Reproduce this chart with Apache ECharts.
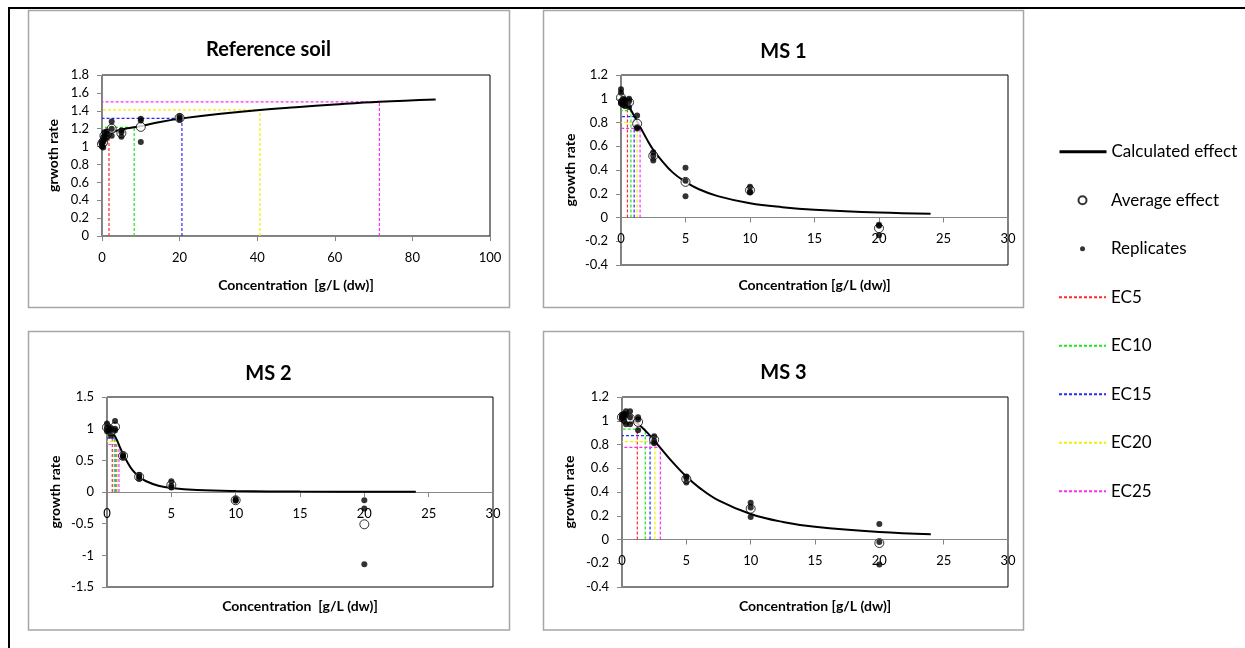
<!DOCTYPE html>
<html><head><meta charset="utf-8">
<script src="https://cdn.jsdelivr.net/npm/echarts@6/dist/echarts.min.js"></script>
<style>html,body{margin:0;padding:0;background:#fff}#c{width:1245px;height:648px}</style>
</head><body><div id="c"></div><script>
const FONT = 'Lato, "Noto Sans", sans-serif';

// ---------- Reference soil ----------
const refCurveX = [0.3, 1, 2, 4, 6, 8.3, 10, 15, 20.6, 30, 40.7, 50, 60, 71.5, 86];
const refCurveY = [1.12, 1.14, 1.155, 1.18, 1.2, 1.215, 1.23, 1.275, 1.315, 1.365, 1.41, 1.44, 1.47, 1.50, 1.525];
const refAverage = [[0,1.03],[0.31,1.05],[0.625,1.12],[1.25,1.14],[2.5,1.2],[5,1.15],[10,1.22],[20,1.32]];
const refReplicates = [[0,1.00],[0,1.03],[0,1.06],[0.31,0.99],[0.31,1.05],[0.31,1.10],
  [0.625,1.08],[0.625,1.12],[0.625,1.16],[1.25,1.10],[1.25,1.14],[1.25,1.17],
  [2.5,1.12],[2.5,1.20],[2.5,1.28],[5,1.11],[5,1.16],[5,1.18],
  [10,1.05],[10,1.29],[10,1.31],[20,1.30],[20,1.32],[20,1.34]];
const refEcX = [1.8, 8.3, 20.6, 40.7, 71.5];
const refEcY = [1.155, 1.215, 1.315, 1.41, 1.50];

// ---------- MS 1 ----------
const ms1CurveX = [0, 0.25, 0.5, 0.75, 1, 1.25, 1.5, 2, 2.5, 3, 4, 5, 6, 7.5, 10, 12.5, 15, 20, 24];
const ms1CurveY = [1.0, 0.99, 0.95, 0.91, 0.86, 0.81, 0.76, 0.66, 0.57, 0.50, 0.38, 0.30, 0.24, 0.18, 0.12, 0.087, 0.066, 0.042, 0.032];
const ms1Average = [[0,1.01],[0.16,0.97],[0.31,0.96],[0.625,0.97],[1.25,0.79],[2.5,0.52],[5,0.30],[10,0.23],[20,-0.09]];
const ms1Replicates = [[0,1.08],[0,1.05],[0,0.98],[0,0.96],[0.16,0.97],[0.16,1.0],[0.16,0.95],
  [0.31,0.99],[0.31,0.96],[0.31,0.94],[0.625,1.0],[0.625,0.98],[0.625,0.93],
  [1.25,0.86],[1.25,0.76],[1.25,0.75],[2.5,0.55],[2.5,0.52],[2.5,0.48],
  [5,0.42],[5,0.31],[5,0.18],[10,0.26],[10,0.22],[10,0.21],[20,-0.06],[20,-0.07],[20,-0.15]];
const ms1EcX = [0.5, 0.77, 1.02, 1.25, 1.48];
const ms1EcY = [0.95, 0.90, 0.85, 0.80, 0.75];

// ---------- MS 2 ----------
const ms2CurveX = [0, 0.25, 0.5, 0.75, 1, 1.25, 1.5, 2, 2.5, 3, 4, 5, 7, 10, 15, 24];
const ms2CurveY = [1.0, 0.983, 0.92, 0.83, 0.71, 0.60, 0.50, 0.34, 0.24, 0.174, 0.099, 0.062, 0.030, 0.014, 0.006, 0.002];
const ms2Average = [[0,1.02],[0.16,0.99],[0.31,0.96],[0.625,1.03],[1.25,0.57],[2.5,0.24],[5,0.11],[10,-0.13],[20,-0.51]];
const ms2Replicates = [[0,1.08],[0,1.02],[0,0.96],[0.16,1.0],[0.16,0.97],
  [0.31,0.89],[0.31,0.98],[0.31,1.01],[0.625,1.12],[0.625,1.0],[0.625,0.97],
  [1.25,0.59],[1.25,0.57],[1.25,0.55],[2.5,0.27],[2.5,0.24],[2.5,0.21],
  [5,0.17],[5,0.10],[5,0.07],[10,-0.11],[10,-0.13],[10,-0.14],[20,-0.13],[20,-0.26],[20,-1.14]];
const ms2EcX = [0.41, 0.57, 0.70, 0.81, 0.93];
const ms2EcY = [0.95, 0.90, 0.85, 0.80, 0.75];

// ---------- MS 3 ----------
const ms3CurveX = [0, 0.5, 1, 1.5, 2, 2.5, 3, 4, 5, 6, 7.5, 10, 12.5, 15, 20, 24];
const ms3CurveY = [1.03, 1.02, 0.993, 0.95, 0.896, 0.835, 0.77, 0.643, 0.53, 0.437, 0.329, 0.215, 0.148, 0.107, 0.063, 0.045];
const ms3Average = [[0,1.03],[0.16,1.03],[0.31,1.01],[0.625,1.02],[1.25,0.99],[2.5,0.84],[5,0.51],[10,0.26],[20,-0.03]];
const ms3Replicates = [[0,1.05],[0,1.02],[0,1.03],[0.16,1.03],[0.16,1.06],[0.16,1.0],
  [0.31,1.08],[0.31,1.05],[0.31,0.97],[0.625,1.08],[0.625,1.03],[0.625,0.97],
  [1.25,1.03],[1.25,1.01],[1.25,0.92],[2.5,0.87],[2.5,0.83],[2.5,0.81],
  [5,0.53],[5,0.52],[5,0.48],[10,0.31],[10,0.27],[10,0.19],[20,0.13],[20,-0.02],[20,-0.21]];
const ms3EcX = [1.19, 1.81, 2.18, 2.56, 2.98];
const ms3EcY = [0.98, 0.93, 0.875, 0.825, 0.775];

const ecNames = ['EC5', 'EC10', 'EC15', 'EC20', 'EC25'];
const ecColors = ['#ff2a2a', '#1ee61e', '#2a2aff', '#f0f000', '#ff2aff'];

const panels = [
  {title:'Reference soil', yName:'grwoth rate', xName:'Concentration  [g/L (dw)]',
   xMax:100, xInt:20, yMin:0, yMax:1.8, yInt:0.2,
   cx:refCurveX, cy:refCurveY, avg:refAverage, rep:refReplicates, ecx:refEcX, ecy:refEcY,
   grid:{left:102, top:75, width:388, height:161}, tx:268.5, ty:38, xGap:41, yGap:40},
  {title:'MS 1', yName:'growth rate', xName:'Concentration [g/L (dw)]',
   xMax:30, xInt:5, yMin:-0.4, yMax:1.2, yInt:0.2,
   cx:ms1CurveX, cy:ms1CurveY, avg:ms1Average, rep:ms1Replicates, ecx:ms1EcX, ecy:ms1EcY,
   grid:{left:621, top:75, width:387, height:190}, tx:783.5, ty:39.5, xGap:59.5, yGap:42},
  {title:'MS 2', yName:'growth rate', xName:'Concentration  [g/L (dw)]',
   xMax:30, xInt:5, yMin:-1.5, yMax:1.5, yInt:0.5,
   cx:ms2CurveX, cy:ms2CurveY, avg:ms2Average, rep:ms2Replicates, ecx:ms2EcX, ecy:ms2EcY,
   grid:{left:107, top:397, width:386, height:190}, tx:268.5, ty:362, xGap:106, yGap:43},
  {title:'MS 3', yName:'growth rate', xName:'Concentration [g/L (dw)]',
   xMax:30, xInt:5, yMin:-0.4, yMax:1.2, yInt:0.2,
   cx:ms3CurveX, cy:ms3CurveY, avg:ms3Average, rep:ms3Replicates, ecx:ms3EcX, ecy:ms3EcY,
   grid:{left:622, top:397, width:386, height:190}, tx:783.5, ty:361, xGap:58.5, yGap:44}
];

const axisGray = '#868686';
const grids = [], xAxes = [], yAxes = [], titles = [], series = [];
panels.forEach((p, i) => {
  grids.push(Object.assign({show:true, borderColor:'#000', borderWidth:1, backgroundColor:'transparent', containLabel:false}, p.grid));
  titles.push({text:p.title, left:p.tx, top:p.ty, textAlign:'center', padding:0,
    textStyle:{fontFamily:FONT, fontSize:20, fontWeight:'bold', color:'#000', lineHeight:24}});
  // x axis sits at y = 0 : shift it up from the grid bottom by the zero position
  const zeroOffset = -p.grid.height * (0 - p.yMin) / (p.yMax - p.yMin);
  xAxes.push({type:'value', gridIndex:i, min:0, max:p.xMax, interval:p.xInt, position:'bottom', offset:zeroOffset,
    axisLine:{show:true, onZero:false, lineStyle:{color:axisGray, width:1}},
    axisTick:{show:true, length:5, lineStyle:{color:axisGray}},
    axisLabel:{margin:15, color:'#000', fontSize:13, fontFamily:FONT},
    splitLine:{show:false},
    name:p.xName, nameLocation:'middle', nameGap:p.xGap,
    nameTextStyle:{fontFamily:FONT, fontSize:14, fontWeight:'bold', color:'#000', lineHeight:17}});
  yAxes.push({type:'value', gridIndex:i, min:p.yMin, max:p.yMax, interval:p.yInt,
    axisLine:{show:true, onZero:false, lineStyle:{color:axisGray, width:1}},
    axisTick:{show:true, length:5, lineStyle:{color:axisGray}},
    axisLabel:{margin:13, color:'#000', fontSize:13, fontFamily:FONT},
    splitLine:{show:false},
    name:p.yName, nameLocation:'middle', nameGap:p.yGap, nameRotate:90,
    nameTextStyle:{fontFamily:FONT, fontSize:14, fontWeight:'bold', color:'#000', lineHeight:17}});
  ecNames.forEach((n, k) => {
    series.push({name:n, type:'line', xAxisIndex:i, yAxisIndex:i, symbol:'none', silent:true, z:2,
      lineStyle:{color:ecColors[k], width:1.2, type:[3,2]}, itemStyle:{color:ecColors[k]},
      data:[[p.ecx[k], 0], [p.ecx[k], p.ecy[k]], [0, p.ecy[k]]]});
  });
  series.push({name:'Calculated effect', type:'line', xAxisIndex:i, yAxisIndex:i, symbol:'none', smooth:0.4, silent:true, z:3,
    lineStyle:{color:'#000', width:2}, itemStyle:{color:'#000'},
    data:p.cx.map((x, j) => [x, p.cy[j]])});
  series.push({name:'Average effect', type:'scatter', xAxisIndex:i, yAxisIndex:i, symbol:'circle', symbolSize:9, silent:true, z:4,
    itemStyle:{color:'#fff', borderColor:'#000', borderWidth:1}, data:p.avg});
  series.push({name:'Replicates', type:'scatter', xAxisIndex:i, yAxisIndex:i, symbol:'circle', symbolSize:6, silent:true, z:5,
    itemStyle:{color:'#000'}, data:p.rep});
});

const legText = {fontFamily:FONT, fontSize:17, color:'#000', lineHeight:20};
const noSym = {color:'transparent', borderColor:'transparent', borderWidth:0};
const legends = [
  {data:['Calculated effect'], left:1058, top:141.7, itemWidth:47, itemHeight:14, padding:0, selectedMode:false, textStyle:legText, itemStyle:noSym, lineStyle:{width:3}},
  {data:['Average effect'], left:1077.5, top:190.2, itemWidth:47, itemHeight:8, padding:0, selectedMode:false, textStyle:legText},
  {data:['Replicates'], left:1080, top:238.7, itemWidth:47, itemHeight:5, padding:0, selectedMode:false, textStyle:legText},
  {data:ecNames, orient:'vertical', left:1058, top:287.2, itemWidth:47, itemHeight:14, itemGap:28.5, padding:0, selectedMode:false, textStyle:legText, itemStyle:noSym}
];

const chart = echarts.init(document.getElementById('c'), null, {renderer:'canvas'});
chart.setOption({
  backgroundColor:'#fff',
  animation:false,
  title:titles, grid:grids, xAxis:xAxes, yAxis:yAxes, legend:legends, series:series,
  graphic:[
    {type:'line', silent:true, shape:{x1:8, y1:8, x2:1245, y2:8}, style:{stroke:'#000', lineWidth:2}},
    {type:'line', silent:true, shape:{x1:9, y1:8, x2:9, y2:648}, style:{stroke:'#000', lineWidth:2}},
    {type:'rect', silent:true, shape:{x:28.5, y:10.5, width:481, height:297}, style:{fill:'none', stroke:'#a6a6a6', lineWidth:1.5}},
    {type:'rect', silent:true, shape:{x:543.5, y:10.5, width:480, height:297}, style:{fill:'none', stroke:'#a6a6a6', lineWidth:1.5}},
    {type:'rect', silent:true, shape:{x:28.5, y:331.5, width:481, height:298.5}, style:{fill:'none', stroke:'#a6a6a6', lineWidth:1.5}},
    {type:'rect', silent:true, shape:{x:543.5, y:331.5, width:480, height:298.5}, style:{fill:'none', stroke:'#a6a6a6', lineWidth:1.5}}
  ]
});
</script></body></html>
